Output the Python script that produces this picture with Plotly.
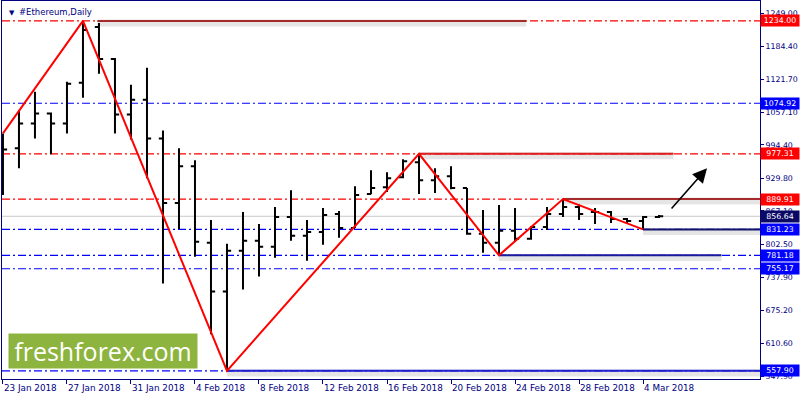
import plotly.graph_objects as go

# ---------------- data ----------------
bar_idx = list(range(42))
opens = [993.5, 987.8, 1035.8, 1055.0, 1035.8, 1114.5, 1222.1, 1160.6, 1053.1, 1081.9,
         1007.0, 882.1, 953.2, 805.3, 711.2, 789.9, 809.2, 797.6, 855.2, 818.8,
         826.4, 861.0, 834.1, 899.4, 912.9, 932.1, 960.9, 926.3, 934.0, 911.0,
         822.6, 805.3, 828.4, 813.0, 836.0, 861.0, 874.5, 864.8, 864.8, 851.4,
         847.6, 855.2]
highs = [1016.6, 1060.8, 1097.3, 1057.0, 1116.5, 1234.0, 1229.8, 1162.6, 1110.7, 1143.4,
         1022.3, 987.8, 964.7, 849.5, 803.4, 864.8, 841.8, 874.5, 907.1, 849.5,
         872.5, 866.8, 914.8, 945.5, 941.7, 966.6, 977.3, 949.4, 953.2, 911.0,
         868.7, 878.3, 872.5, 837.9, 874.5, 889.9, 880.0, 872.5, 866.8, 853.3,
         857.2, 859.1]
lows = [897.5, 949.4, 1007.0, 976.2, 1016.6, 1085.7, 1131.8, 1016.6, 1005.1, 930.2,
        726.5, 832.2, 778.4, 628.6, 557.9, 715.0, 740.0, 776.5, 809.2, 770.7,
        801.5, 814.9, 834.1, 899.0, 903.3, 930.2, 899.4, 901.4, 909.0, 820.7,
        786.1, 781.2, 807.2, 811.1, 830.3, 855.2, 849.5, 841.8, 843.7, 843.7,
        831.2, 853.3]
closes = [985.8, 1035.8, 1055.0, 1035.8, 1112.6, 1216.3, 1160.6, 1053.1, 1081.9, 1007.0,
          882.1, 953.2, 807.2, 711.2, 789.9, 809.2, 797.6, 855.2, 818.8, 826.4,
          859.1, 834.1, 897.5, 911.0, 930.2, 962.8, 926.3, 934.0, 911.0, 822.6,
          805.3, 828.4, 813.0, 836.0, 861.0, 874.5, 861.0, 864.8, 851.4, 847.6,
          855.2, 856.64]

date_tick_idx = [0, 4, 8, 12, 16, 20, 24, 28, 32, 36, 40]
date_labels = ["23 Jan 2018", "27 Jan 2018", "31 Jan 2018", "4 Feb 2018", "8 Feb 2018",
               "12 Feb 2018", "16 Feb 2018", "20 Feb 2018", "24 Feb 2018", "28 Feb 2018",
               "4 Mar 2018"]

price_ticks = [1249.00, 1184.40, 1121.70, 1057.10, 994.40, 929.80, 867.10, 802.50,
               737.90, 675.20, 610.60, 547.90]
price_tick_labels = ["%.2f" % v for v in price_ticks]

zigzag_x = [0, 5, 14, 26, 31, 35, 40]
zigzag_y = [1016.6, 1234.00, 557.90, 977.31, 781.18, 889.91, 831.23]

red_levels = [1234.00, 977.31, 889.91]
blue_levels = [1074.92, 831.23, 781.18, 755.17, 557.90]
current_price = 856.64

# drawn level segments: start index, end index, level, colour
seg_start = [5.9, 26, 35, 40, 31, 14]
seg_end = [32.7, 41.9, 47.4, 47.4, 44.9, 47.4]
seg_level = [1234.00, 977.31, 889.91, 831.23, 781.18, 557.90]
seg_color = ["#a52a2a", "#e02020", "#a52a2a", "#14146e", "#1a1aa0", "#2020d0"]

label_levels = [1234.00, 1074.92, 977.31, 889.91, 856.64, 831.23, 781.18, 755.17, 557.90]
label_colors = ["#ff0000", "#0000ff", "#ff0000", "#ff0000", "#0a0a66", "#0000ff",
                "#0000ff", "#0000ff", "#0000ff"]

arrow_from = (41.7, 868.7)
arrow_to = (44.0, 949.4)

NAVY = "#000080"
FONT = "DejaVu Sans"
FS = 7.8

fig = go.Figure()

# level line shadows + segments
for s, e, lv, c in zip(seg_start, seg_end, seg_level, seg_color):
    fig.add_trace(go.Scatter(x=[s, e], y=[lv - 4, lv - 4], mode="lines",
                             line=dict(color="rgba(0,0,0,0.10)", width=7),
                             hoverinfo="skip", showlegend=False))
    fig.add_trace(go.Scatter(x=[s, e], y=[lv, lv], mode="lines",
                             line=dict(color=c, width=2),
                             hoverinfo="skip", showlegend=False))

# OHLC bars
fig.add_trace(go.Ohlc(x=bar_idx, open=opens, high=highs, low=lows, close=closes,
                      increasing=dict(line=dict(color="black", width=2)),
                      decreasing=dict(line=dict(color="black", width=2)),
                      tickwidth=0.26, showlegend=False, hoverinfo="skip"))

# zigzag
fig.add_trace(go.Scatter(x=zigzag_x, y=zigzag_y, mode="lines",
                         line=dict(color="#ff0000", width=2),
                         hoverinfo="skip", showlegend=False))

shapes = []
dashpat = "8px,3px,2px,3px"
for lv in red_levels:
    shapes.append(dict(type="line", xref="paper", x0=0, x1=1, yref="y", y0=lv, y1=lv,
                       line=dict(color="#ff0000", width=1.2, dash=dashpat), layer="below"))
for lv in blue_levels:
    shapes.append(dict(type="line", xref="paper", x0=0, x1=1, yref="y", y0=lv, y1=lv,
                       line=dict(color="#0000ff", width=1.2, dash=dashpat), layer="below"))
shapes.append(dict(type="line", xref="paper", x0=0, x1=1, yref="y",
                   y0=current_price, y1=current_price,
                   line=dict(color="#c8c8c8", width=1), layer="below"))

annotations = []
for lv, c in zip(label_levels, label_colors):
    annotations.append(dict(xref="paper", x=1, xanchor="left", yref="y", y=lv,
                            yanchor="middle", text="%.2f" % lv, showarrow=False,
                            bgcolor=c, font=dict(color="white", size=FS, family=FONT),
                            width=37, height=10, borderpad=0.5, align="center"))

# arrow
annotations.append(dict(x=arrow_to[0], y=arrow_to[1], ax=arrow_from[0], ay=arrow_from[1],
                        xref="x", yref="y", axref="x", ayref="y", text="",
                        showarrow=True, arrowhead=2, arrowsize=1.8, arrowwidth=1.6,
                        arrowcolor="black"))

# title
annotations.append(dict(xref="paper", yref="paper", x=0.006, y=0.985, xanchor="left",
                        yanchor="top", text="▼", showarrow=False,
                        font=dict(color=NAVY, size=7, family=FONT)))
annotations.append(dict(xref="paper", yref="paper", x=0.020, y=0.99, xanchor="left",
                        yanchor="top", text="#Ethereum,Daily", showarrow=False,
                        font=dict(color=NAVY, size=8.5, family=FONT)))

# logo
annotations.append(dict(xref="paper", yref="paper", x=0.0079, y=0.026, xanchor="left",
                        yanchor="bottom", text="freshforex.com", showarrow=False,
                        bgcolor="#8db43e", width=186, height=32, borderpad=1,
                        font=dict(color="white", size=25, family="Open Sans")))

fig.update_layout(
    width=800, height=400,
    margin=dict(l=2, r=40, t=1, b=21, autoexpand=False),
    paper_bgcolor="white", plot_bgcolor="white",
    showlegend=False,
    shapes=shapes, annotations=annotations,
    xaxis=dict(range=[-0.06, 47.31], rangeslider=dict(visible=False), automargin=False,
               tickmode="array", tickvals=date_tick_idx, ticktext=date_labels,
               ticklabelposition="outside right",
               ticks="outside", ticklen=4, tickcolor=NAVY,
               tickfont=dict(color=NAVY, size=8.8, family=FONT),
               showgrid=False, zeroline=False,
               showline=True, linecolor=NAVY, linewidth=1, mirror=True),
    yaxis=dict(range=[542.2, 1272.5], side="right", automargin=False,
               tickmode="array", tickvals=price_ticks, ticktext=price_tick_labels,
               ticks="outside", ticklen=3, tickcolor=NAVY,
               tickfont=dict(color=NAVY, size=FS, family=FONT),
               showgrid=False, zeroline=False,
               showline=True, linecolor=NAVY, linewidth=1, mirror=True),
)

fig.write_html("out.html", config={"displayModeBar": False},
               post_script="document.body.style.margin='0';document.body.style.padding='0';")
